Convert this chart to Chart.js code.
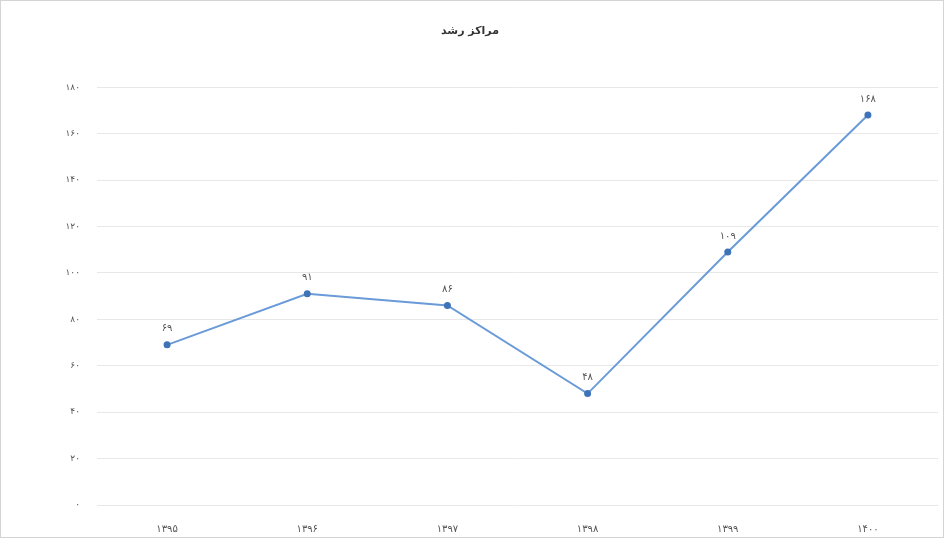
<!DOCTYPE html>
<html>
<head>
<meta charset="utf-8">
<script src="https://cdn.jsdelivr.net/npm/chart.js@4/dist/chart.umd.min.js"></script>
<style>
  html, body { margin: 0; padding: 0; background: #fff; }
  #wrap { width: 944px; height: 538px; }
</style>
</head>
<body>
<div id="wrap"><canvas id="c" width="944" height="538"></canvas></div>
<script>
const years = [1395, 1396, 1397, 1398, 1399, 1400];
const centers = [69, 91, 86, 48, 109, 168];
const yTicks = [0, 20, 40, 60, 80, 100, 120, 140, 160, 180];

const faDigits = '۰۱۲۳۴۵۶۷۸۹';
function fa(n) {
  return String(n).replace(/\d/g, d => faDigits[d]);
}

const frame = {
  id: 'frame',
  beforeDraw(chart) {
    const ctx = chart.ctx;
    ctx.save();
    ctx.fillStyle = '#fff';
    ctx.fillRect(0, 0, chart.width, chart.height);
    ctx.strokeStyle = '#d4d4d4';
    ctx.lineWidth = 1;
    ctx.strokeRect(0.5, 0.5, chart.width - 1, chart.height - 1);
    ctx.restore();
  }
};

const pointLabels = {
  id: 'pointLabels',
  afterDatasetsDraw(chart) {
    const ctx = chart.ctx;
    const meta = chart.getDatasetMeta(0);
    ctx.save();
    ctx.font = '10px "DejaVu Sans"';
    ctx.fillStyle = '#555';
    ctx.textAlign = 'center';
    ctx.textBaseline = 'bottom';
    meta.data.forEach((pt, i) => {
      ctx.fillText(fa(centers[i]), pt.x, pt.y - 11);
    });
    ctx.restore();
  }
};

new Chart(document.getElementById('c'), {
  type: 'line',
  data: {
    labels: years.map(fa),
    datasets: [{
      data: centers,
      borderColor: '#6a9bd8',
      borderWidth: 2,
      pointBackgroundColor: '#3f73b8',
      pointBorderColor: '#3f73b8',
      pointRadius: 2.5,
      tension: 0
    }]
  },
  options: {
    responsive: false,
    animation: false,
    layout: { padding: { top: 25, right: 4, left: 0, bottom: 0 } },
    plugins: {
      legend: { display: false },
      tooltip: { enabled: false },
      title: {
        display: true,
        text: 'مراکز رشد',
        color: '#333',
        font: { family: 'DejaVu Sans', size: 11, weight: 'bold' },
        padding: { top: 0, bottom: 49 }
      }
    },
    scales: {
      x: {
        offset: true,
        grid: { display: false },
        border: { display: false },
        ticks: {
          color: '#555',
          font: { family: 'DejaVu Sans', size: 10 },
          padding: 10
        },
        afterFit(s) { s.height = 33; }
      },
      y: {
        min: 0,
        max: 180,
        afterBuildTicks(s) { s.ticks = yTicks.map(v => ({ value: v })); },
        grid: { color: '#e8e8e8', drawTicks: false },
        border: { display: false },
        ticks: {
          color: '#555',
          font: { family: 'DejaVu Sans', size: 9 },
          padding: 17,
          callback: v => fa(v)
        },
        afterFit(s) { s.width = 97; }
      }
    }
  },
  plugins: [frame, pointLabels]
});
</script>
</body>
</html>
